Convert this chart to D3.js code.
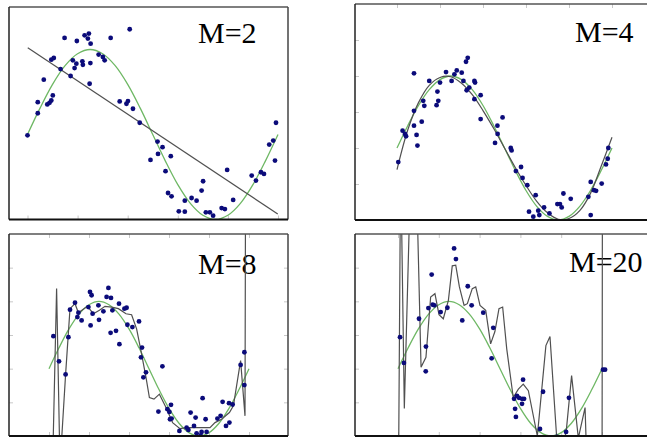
<!DOCTYPE html>
<html><head><meta charset="utf-8">
<script src="https://cdn.jsdelivr.net/npm/d3@7"></script>
<style>html,body{margin:0;padding:0;background:#fff;overflow:hidden}</style>
</head><body>
<svg id="c" width="647" height="437"></svg>
<script>
// ---------- data ----------
const labels = ["M=2", "M=4", "M=8", "M=20"];
const xTicks = [0, 0.2, 0.4, 0.6, 0.8, 1];
const yTicks = [-0.5, 0, 0.5, 1, 1.5];

// true curve (green), sampled
const trueX = [0,0.05,0.1,0.15,0.2,0.25,0.3,0.35,0.4,0.45,0.5,0.55,0.6,0.65,0.7,0.75,0.8,0.85,0.9,0.95,1];
const trueY = [0,0.31,0.59,0.81,0.95,1,0.95,0.81,0.59,0.31,0,-0.31,-0.59,-0.81,-0.95,-1,-0.95,-0.81,-0.59,-0.31,0];

const pointsM2 = [[0.00,-0.01],[0.041,0.25],[0.041,0.38],[0.065,0.645],[0.079,0.354],[0.088,0.373],[0.095,0.40],[0.101,0.46],
 [0.095,0.88],[0.105,0.90],[0.132,0.77],[0.148,1.136],[0.172,0.688],[0.181,0.873],[0.188,0.782],[0.197,1.10],[0.195,0.833],
 [0.219,0.861],[0.221,0.82],[0.228,1.167],[0.245,1.187],[0.241,1.128],[0.252,1.069],[0.248,0.597],[0.251,0.84],[0.284,0.94],
 [0.301,0.912],[0.308,0.873],[0.332,1.136],[0.408,1.238],[0.368,0.389],[0.395,0.362],[0.401,0.393],[0.421,0.303],[0.448,0.138],
 [0.519,-0.083],[0.539,-0.149],[0.521,-0.228],[0.572,-0.255],[0.491,-0.299],[0.551,-0.432],[0.561,-0.688],[0.575,-0.727],
 [0.628,-0.778],[0.655,-0.747],[0.675,-0.778],[0.604,-0.904],[0.628,-0.908],[0.701,-0.55],[0.695,-0.66],[0.712,-0.916],
 [0.728,-0.916],[0.741,-0.955],[0.775,-0.865],[0.788,-0.877],[0.797,-0.417],[0.821,-0.77],[0.895,-0.483],[0.912,-0.542],
 [0.932,-0.444],[0.944,-0.464],[0.965,-0.118],[0.981,-0.071],[0.988,-0.307],[0.992,0.138]];

const pointsM4 = [[0.006,-0.195],[0.026,0.241],[0.037,0.195],[0.042,0.163],[0.079,1.037],[0.079,0.517],[0.079,0.31],[0.091,0.182],
 [0.095,0.034],[0.115,0.366],[0.122,0.655],[0.127,0.586],[0.150,0.931],[0.188,0.784],[0.184,0.595],[0.192,0.655],[0.2,0.908],
 [0.228,1.055],[0.254,0.931],[0.267,1.023],[0.278,1.078],[0.301,1.046],[0.309,0.931],[0.321,1.198],[0.329,1.253],[0.324,0.802],
 [0.336,0.839],[0.36,0.931],[0.363,0.908],[0.36,0.678],[0.389,0.733],[0.389,0.402],[0.456,0.071],[0.467,0.31],[0.468,0.195],
 [0.491,0.425],[0.529,0.0],[0.533,-0.034],[0.553,-0.32],[0.577,-0.264],[0.584,-0.416],[0.606,-0.517],[0.645,-0.655],
 [0.614,-0.885],[0.634,-0.954],[0.657,-0.871],[0.662,-0.931],[0.684,-0.825],[0.709,-0.908],[0.746,-0.779],[0.758,-0.779],
 [0.766,-0.825],[0.774,-0.632],[0.808,-0.706],[0.89,-0.678],[0.901,-0.471],[0.901,-0.931],[0.916,-0.586],[0.926,-0.595],
 [0.952,-0.494],[0.972,-0.228],[0.98,-0.149],[0.983,0.0]];

const pointsM8 = [[0.022,0.483],[0.05,0.109],[0.083,-0.085],[0.097,0.468],[0.105,0.876],[0.13,0.98],[0.147,0.831],[0.142,0.766],
 [0.163,0.716],[0.197,0.915],[0.205,1.139],[0.213,1.09],[0.208,0.642],[0.218,0.816],[0.247,0.94],[0.25,0.726],[0.272,0.851],
 [0.288,1.065],[0.297,1.199],[0.31,1.05],[0.308,0.532],[0.317,0.866],[0.335,0.562],[0.35,0.965],[0.352,0.363],[0.377,0.891],
 [0.388,0.905],[0.392,0.652],[0.417,0.617],[0.45,0.701],[0.465,0.313],[0.46,0.169],[0.472,-0.129],[0.485,-0.055],[0.567,0.035],
 [0.547,-0.637],[0.592,-0.602],[0.602,-0.642],[0.61,-0.537],[0.605,-0.751],[0.613,-0.741],[0.652,-0.925],[0.688,-0.876],
 [0.697,-0.91],[0.708,-0.652],[0.733,-0.726],[0.725,-0.851],[0.738,-0.96],[0.763,-0.94],[0.758,-0.99],[0.768,-0.438],
 [0.783,-0.751],[0.788,-0.94],[0.842,-0.741],[0.858,-0.701],[0.868,-0.493],[0.885,-0.851],[0.902,-0.801],[0.9,-0.512],
 [0.918,-0.532],[0.958,0.055],[0.977,0.244],[0.977,-0.244]];

const pointsM20 = [[0.01,0.468],[0.029,0.085],[0.103,0.741],[0.136,-0.04],[0.137,0.328],[0.149,0.9],[0.165,1.398],[0.17,0.95],
 [0.178,0.94],[0.209,0.841],[0.242,0.905],[0.275,1.786],[0.284,1.627],[0.315,0.716],[0.342,1.224],[0.361,0.94],[0.418,0.831],
 [0.459,0.154],[0.467,0.607],[0.569,-0.448],[0.583,-0.403],[0.593,-0.433],[0.608,-0.448],[0.618,-0.448],[0.574,-0.597],
 [0.608,-0.522],[0.578,-0.716],[0.613,-0.164],[0.711,-0.343],[0.696,-0.896],[0.779,-1.015],[0.824,-0.94],[0.838,-0.433],
 [1.005,-0.015],[1.015,-0.015]];

const fitM2 = [[0.001,1.022],[0.999,-0.936]];
const fitM4 = [[0,-0.30],[0.05,0.25],[0.1,0.63],[0.15,0.87],[0.2,0.98],[0.25,0.99],[0.3,0.90],[0.35,0.74],[0.4,0.52],[0.45,0.27],
 [0.5,0.0],[0.55,-0.27],[0.6,-0.52],[0.65,-0.74],[0.7,-0.90],[0.75,-0.99],[0.8,-0.98],[0.85,-0.87],[0.9,-0.63],[0.95,-0.25],[1.0,0.15]];
const fitM8 = [[0.018,-1.448],[0.038,1.189],[0.055,-1.448],[0.083,-0.085],[0.105,0.891],[0.13,0.965],[0.147,0.831],[0.192,0.925],
 [0.222,0.816],[0.252,0.866],[0.28,0.925],[0.313,0.915],[0.347,0.891],[0.385,0.816],[0.413,0.801],[0.438,0.592],[0.458,0.294],
 [0.485,-0.129],[0.502,-0.428],[0.525,-0.453],[0.552,-0.378],[0.585,-0.577],[0.618,-0.801],[0.655,-0.891],[0.688,-0.876],
 [0.755,-0.876],[0.805,-0.876],[0.83,-0.801],[0.863,-0.751],[0.902,-0.652],[0.922,-0.552],[0.958,0.119],[0.98,-0.701],[0.983,3.13]];
const fitM20 = [[0.003,-1.35],[0.013,3.13],[0.031,-0.592],[0.064,3.13],[0.088,3.13],[0.113,0.02],[0.137,0.169],[0.16,1.065],
 [0.181,1.114],[0.201,0.801],[0.222,0.741],[0.247,1.015],[0.266,1.527],[0.283,1.537],[0.301,1.214],[0.324,0.94],[0.34,0.965],
 [0.364,1.189],[0.381,1.214],[0.402,0.94],[0.43,0.866],[0.454,0.368],[0.475,0.552],[0.495,0.891],[0.513,0.915],[0.533,0.294],
 [0.565,-0.428],[0.59,-0.303],[0.614,-0.229],[0.639,-0.328],[0.683,-1.0],[0.725,0.343],[0.745,0.478],[0.778,-1.03],[0.815,-1.03],
 [0.824,-0.95],[0.851,-0.104],[0.884,-1.03],[0.917,-0.577],[0.925,-1.35],[1.0,-2.34],[1.003,5.1]];

// ---------- layout ----------
const panels = [
  {label:labels[0], pts:pointsM2, fit:fitM2, smooth:false, left:9, top:7, right:288, bottom:219.5, x0:27.5, x1:278, yDom:[-1,1.5], lx:198, ly:43, sides:["bottom"]},
  {label:labels[1], pts:pointsM4, fit:fitM4, smooth:true, left:355, top:4, right:700, bottom:220, x0:397, x1:612, yDom:[-1,2], lx:575, ly:42, sides:["top","left"]},
  {label:labels[2], pts:pointsM8, fit:fitM8, smooth:false, left:9, top:234, right:288, bottom:436, x0:49, x1:249, yDom:[-1,2], lx:198, ly:274, sides:["top","left","right","bottom"]},
  {label:labels[3], pts:pointsM20, fit:fitM20, smooth:false, left:355, top:234, right:700, bottom:436, x0:398, x1:602, yDom:[-1,2], lx:569, ly:272, sides:["top","left","bottom"]}
];

const svg = d3.select("#c");
const defs = svg.append("defs");
const GREEN = "#6fb865", DOT = "#0b0b7a", FIT = "#505050";

panels.forEach((p, i) => {
  const x = d3.scaleLinear().domain([0, 1]).range([p.x0, p.x1]);
  const y = d3.scaleLinear().domain(p.yDom).range([p.bottom, p.top]);
  const id = "clip" + i;
  defs.append("clipPath").attr("id", id).append("rect")
    .attr("x", p.left).attr("y", p.top).attr("width", p.right - p.left).attr("height", p.bottom - p.top);
  const g = svg.append("g");

  // ticks (inward, faint)
  const tk = 4;
  const axes = {
    top: d3.axisBottom(x).tickValues(xTicks).tickSize(tk),
    bottom: d3.axisTop(x).tickValues(xTicks).tickSize(tk),
    left: d3.axisRight(y).tickValues(yTicks).tickSize(tk),
    right: d3.axisLeft(y).tickValues(yTicks).tickSize(tk)
  };
  const pos = {top:[0,p.top], bottom:[0,p.bottom], left:[p.left,0], right:[p.right,0]};
  p.sides.forEach(s => {
    const a = g.append("g").attr("transform", `translate(${pos[s][0]},${pos[s][1]})`)
      .call(axes[s].tickFormat(""));
    a.select(".domain").remove();
    a.selectAll(".tick line").attr("stroke", "#c8c8c8").attr("stroke-width", 1);
  });

  // label
  g.append("text").attr("x", p.lx).attr("y", p.ly)
    .attr("font-family", "'Liberation Serif','Times New Roman',serif")
    .attr("font-size", 30).attr("fill", "#000").text(p.label);

  const inner = g.append("g").attr("clip-path", `url(#${id})`);

  // true curve
  const greenLine = d3.line().x(d => x(d[0])).y(d => y(d[1])).curve(d3.curveCatmullRom);
  inner.append("path").datum(trueX.map((v, k) => [v, trueY[k]]))
    .attr("d", greenLine).attr("fill", "none").attr("stroke", GREEN).attr("stroke-width", 1.3);

  // fitted curve
  const fitLine = d3.line().x(d => x(d[0])).y(d => y(d[1]))
    .curve(p.smooth ? d3.curveCatmullRom : d3.curveLinear);
  inner.append("path").datum(p.fit).attr("d", fitLine)
    .attr("fill", "none").attr("stroke", FIT).attr("stroke-width", 1.2);

  // points
  inner.selectAll("circle").data(p.pts).join("circle")
    .attr("cx", d => x(d[0])).attr("cy", d => y(d[1])).attr("r", 2.4).attr("fill", DOT);

  // frame
  g.append("line").attr("x1", p.left).attr("x2", p.right).attr("y1", p.top).attr("y2", p.top)
    .attr("stroke", "#555").attr("stroke-width", 1.5);
  g.append("line").attr("x1", p.left).attr("x2", p.left).attr("y1", p.top).attr("y2", p.bottom)
    .attr("stroke", "#222").attr("stroke-width", 1.5);
  g.append("line").attr("x1", p.right).attr("x2", p.right).attr("y1", p.top).attr("y2", p.bottom)
    .attr("stroke", "#444").attr("stroke-width", 1.5);
  g.append("line").attr("x1", p.left).attr("x2", p.right).attr("y1", p.bottom).attr("y2", p.bottom)
    .attr("stroke", "#111").attr("stroke-width", 2);
});
</script>
</body></html>
